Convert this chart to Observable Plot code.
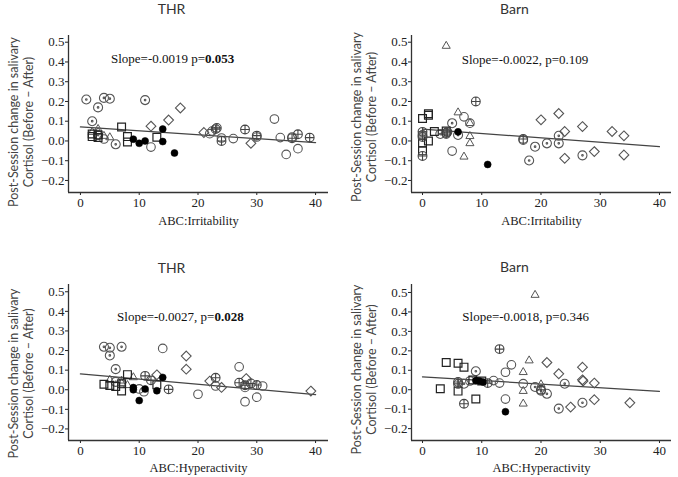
<!DOCTYPE html>
<html>
<head>
<meta charset="utf-8">
<script src="https://cdn.jsdelivr.net/npm/d3@7"></script>
<script src="https://cdn.jsdelivr.net/npm/@observablehq/plot@0.6"></script>
<style>
  html, body { margin: 0; padding: 0; background: #fff; }
  #wrap { position: relative; width: 678px; height: 477px; overflow: hidden; background: #fff; }
  #wrap > div { position: absolute; }
</style>
</head>
<body>
<div id="wrap">
  <div id="tl" style="left:0px;top:0px"></div>
  <div id="tr" style="left:339px;top:0px"></div>
  <div id="bl" style="left:0px;top:237px"></div>
  <div id="br" style="left:339px;top:237px"></div>
</div>
<script>
// ---------- data ----------
// group codes: c = open circle, cd = circle with dot, s = square, t = triangle,
// d = diamond, f = filled circle, cp = circle with plus
const titles = ["THR", "Barn", "THR", "Barn"];
const xLabels = ["ABC:Irritability", "ABC:Irritability", "ABC:Hyperactivity", "ABC:Hyperactivity"];
const yLabel = "Post-Session change in salivary\nCortisol (Before \u2013 After)";
const xTicks = [0, 10, 20, 30, 40];
const yTicks = [-0.2, -0.1, 0.0, 0.1, 0.2, 0.3, 0.4, 0.5];
const fitX = [0, 40];

// THR – Irritability
const thrIrrX = [1, 2, 3, 4, 5, 6, 11, 3,
  4, 12, 22, 22.4, 24, 26, 30, 33, 34, 35, 36, 37,
  2, 2, 3, 3, 7, 8, 8, 13,
  2, 3, 3, 4, 5,
  12, 15, 17, 21, 29,
  9, 10, 11, 14, 14, 16,
  23, 23.2, 24, 28, 30, 36, 37, 39];
const thrIrrY = [0.21, 0.10, 0.17, 0.218, 0.214, -0.017, 0.207, 0.03,
  0.01, -0.031, 0.037, 0.05, 0.015, 0.012, 0.02, 0.111, 0.017, -0.068, 0.02, -0.039,
  0.035, 0.022, 0.03, 0.018, 0.071, 0.022, -0.005, 0.019,
  0.045, 0.06, 0.045, 0.025, 0.018,
  0.075, 0.106, 0.167, 0.043, -0.012,
  0.009, -0.012, 0.0, 0.06, -0.003, -0.061,
  0.06, 0.066, 0.0, 0.058, 0.027, 0.014, 0.034, 0.017];
const thrIrrG = ["cd", "cd", "cd", "cd", "cd", "cd", "cd", "cd",
  "c", "c", "c", "c", "c", "c", "c", "c", "c", "c", "c", "c",
  "s", "s", "s", "s", "s", "s", "s", "s",
  "t", "t", "t", "t", "t",
  "d", "d", "d", "d", "d",
  "f", "f", "f", "f", "f", "f",
  "cp", "cp", "cp", "cp", "cp", "cp", "cp", "cp"];
const thrIrrFit = [0.071, -0.008];

// Barn – Irritability
const barnIrrX = [0, 1, 1, 0, 0, 1, 2, 4,
  0, 0, 0, 0, 4, 9, 17, 4.2,
  3, 5, 6, 18, 19, 21, 23, 23, 27,
  4, 5, 7, 8, 17,
  4, 6, 7, 8, 8, 8,
  6, 11,
  20, 23, 24, 24, 27, 29, 32, 34, 34];
const barnIrrY = [0.114, 0.13, 0.138, -0.01, -0.05, 0.0, 0.048, 0.05,
  0.046, 0.03, 0.02, -0.076, 0.04, 0.2, 0.01, 0.045,
  0.035, 0.09, 0.03, -0.099, -0.029, -0.012, 0.026, -0.012, -0.073,
  0.035, -0.051, 0.122, 0.09, 0.004,
  0.481, 0.144, -0.08, 0.09, 0.024, -0.012,
  0.046, -0.119,
  0.107, 0.139, 0.048, -0.088, 0.073, -0.054, 0.048, 0.026, -0.071];
const barnIrrG = ["s", "s", "s", "s", "s", "s", "s", "s",
  "cp", "cp", "cp", "cp", "cp", "cp", "cp", "cp",
  "cd", "cd", "cd", "cd", "cd", "cd", "cd", "cd", "cd",
  "c", "c", "c", "c", "c",
  "t", "t", "t", "t", "t", "t",
  "f", "f",
  "d", "d", "d", "d", "d", "d", "d", "d", "d"];
const barnIrrFit = [0.06, -0.029];

// THR – Hyperactivity
const thrHypX = [4, 5, 7, 5, 6, 6,
  14, 10, 10.8, 20, 23, 27, 28, 31, 28, 30,
  18, 18, 13, 22, 24, 28.2, 39.2,
  8, 4, 5, 6, 7, 13, 7,
  9, 5, 7, 7, 8,
  14, 13, 10, 9, 9, 11,
  11, 12, 15, 23, 27, 28, 29, 30];
const thrHypY = [0.219, 0.214, 0.219, 0.175, 0.105, 0.04,
  0.211, 0.004, -0.01, -0.023, 0.019, 0.117, 0.012, 0.019, -0.061, -0.038,
  0.172, 0.105, 0.076, 0.044, 0.012, 0.057, -0.007,
  0.077, 0.028, 0.022, 0.017, -0.006, 0.025, 0.03,
  0.063, 0.05, 0.046, 0.034, 0.023,
  0.063, -0.005, -0.055, 0.011, 0.0, 0.004,
  0.071, 0.048, 0.002, 0.061, 0.036, 0.023, 0.032, 0.024];
const thrHypG = ["cd", "cd", "cd", "cd", "cd", "cd",
  "c", "c", "c", "c", "c", "c", "c", "c", "c", "c",
  "d", "d", "d", "d", "d", "d", "d",
  "s", "s", "s", "s", "s", "s", "s",
  "t", "t", "t", "t", "t",
  "f", "f", "f", "f", "f", "f",
  "cp", "cp", "cp", "cp", "cp", "cp", "cp", "cp"];
const thrHypFit = [0.081, -0.025];

// Barn – Hyperactivity
const barnHypX = [19, 18, 17, 17, 17, 20,
  13, 6, 6, 7, 11, 20,
  4, 6, 7, 3, 6, 9, 8.5, 10,
  9, 7, 19, 21, 24, 23, 27, 20,
  15, 14, 17, 14, 12, 13, 8,
  21, 23, 27, 27, 27.1, 29, 25, 29, 35,
  14, 9, 9.6, 10.2];
const barnHypY = [0.487, 0.15, 0.09, -0.007, -0.072, 0.027,
  0.209, 0.04, 0.03, -0.072, 0.034, 0.0,
  0.14, 0.136, 0.116, 0.005, -0.007, -0.048, 0.05, 0.045,
  0.095, 0.031, 0.014, -0.021, 0.031, -0.097, -0.067, -0.005,
  0.128, 0.09, 0.031, -0.048, 0.047, 0.034, 0.045,
  0.14, 0.082, 0.116, 0.051, 0.045, 0.034, -0.089, -0.051, -0.067,
  -0.113, 0.047, 0.045, 0.04];
const barnHypG = ["t", "t", "t", "t", "t", "t",
  "cp", "cp", "cp", "cp", "cp", "cp",
  "s", "s", "s", "s", "s", "s", "s", "s",
  "cd", "cd", "cd", "cd", "cd", "cd", "cd", "cd",
  "c", "c", "c", "c", "c", "c", "c",
  "d", "d", "d", "d", "d", "d", "d", "d", "d",
  "f", "f", "f", "f"];
const barnHypFit = [0.066, -0.008];

// ---------- symbols ----------
const circleDot = {
  draw(ctx, size) {
    const r = Math.sqrt(size / Math.PI);
    ctx.moveTo(r, 0); ctx.arc(0, 0, r, 0, 2 * Math.PI);
    ctx.moveTo(0.8, 0); ctx.arc(0, 0, 0.8, 0, 2 * Math.PI);
  }
};
const circlePlus = {
  draw(ctx, size) {
    const r = Math.sqrt(size / Math.PI);
    ctx.moveTo(r, 0); ctx.arc(0, 0, r, 0, 2 * Math.PI);
    ctx.moveTo(-r, 0); ctx.lineTo(r, 0);
    ctx.moveTo(0, -r); ctx.lineTo(0, r);
  }
};
const groupStyles = [
  {g: "c", symbol: "circle", r: 4.3, fill: "none", stroke: "#555", sw: 1.1},
  {g: "cd", symbol: circleDot, r: 4.5, fill: "none", stroke: "#555", sw: 1.1},
  {g: "d", symbol: "diamond2", r: 4.4, fill: "none", stroke: "#555", sw: 1.1},
  {g: "t", symbol: "triangle", r: 3.0, fill: "none", stroke: "#555", sw: 1.0},
  {g: "s", symbol: "square", r: 4.4, fill: "none", stroke: "#222", sw: 1.2},
  {g: "cp", symbol: circlePlus, r: 4.4, fill: "none", stroke: "#444", sw: 1.1},
  {g: "f", symbol: "circle", r: 3.5, fill: "#000", stroke: "#000", sw: 0.5}
];

const SERIF = "'Liberation Serif', 'Times New Roman', serif";

function panel(el, cfg) {
  const pts = cfg.xs.map((x, i) => ({x, y: cfg.ys[i], g: cfg.gs[i]}));
  const fit = fitX.map((x, i) => ({x, y: cfg.fit[i]}));
  const marks = [
    Plot.ruleX([cfg.xDom[0]], {stroke: "#333", strokeWidth: 1.3}),
    Plot.ruleY([cfg.yDom[0]], {stroke: "#333", strokeWidth: 1.3}),
    Plot.line(fit, {x: "x", y: "y", stroke: "#444", strokeWidth: 1.3})
  ];
  for (const st of groupStyles) {
    marks.push(Plot.dot(pts.filter(d => d.g === st.g), {
      x: "x", y: "y", symbol: st.symbol, r: st.r,
      fill: st.fill, stroke: st.stroke, strokeWidth: st.sw
    }));
  }
  if (cfg.slopeBold) {
    marks.push(Plot.text([cfg.slopeA], {x: () => cfg.sx, y: () => cfg.sy, text: d => d,
      textAnchor: "end", fontFamily: "Liberation Serif", fontSize: 13, fill: "#111"}));
    marks.push(Plot.text([cfg.slopeBold], {x: () => cfg.sx, y: () => cfg.sy, text: d => d,
      textAnchor: "start", fontFamily: "Liberation Serif", fontSize: 13, fontWeight: "bold", fill: "#111"}));
  } else {
    marks.push(Plot.text([cfg.slopeA], {x: () => cfg.sx, y: () => cfg.sy, text: d => d,
      textAnchor: "middle", fontFamily: "Liberation Serif", fontSize: 13, fill: "#111"}));
  }
  marks.push(Plot.text([cfg.title], {frameAnchor: "top", text: d => d, dx: cfg.tdx, dy: cfg.tdy,
    fontFamily: "Lato", fontSize: 14, fill: "#333", lineAnchor: "middle", textAnchor: "middle"}));
  marks.push(Plot.text([cfg.xlabel], {frameAnchor: "bottom", text: d => d, dy: cfg.xldy,
    fontFamily: "Liberation Serif", fontSize: 12.5, fill: "#222", lineAnchor: "middle", textAnchor: "middle"}));
  marks.push(Plot.text([yLabel], {frameAnchor: "left", text: d => d, rotate: -90,
    dx: -47.5, dy: cfg.yldy, lineHeight: 1.2, textAnchor: "middle",
    fontFamily: "Lato", fontSize: 12.5, fill: "#444", lineAnchor: "middle"}));

  const svg = Plot.plot({
    width: cfg.width, height: cfg.height,
    marginLeft: cfg.mL, marginRight: cfg.mR, marginTop: cfg.mT, marginBottom: cfg.mB,
    style: "background: #fff; font-size: 13px; color: #222; overflow: visible;",
    x: {domain: cfg.xDom, ticks: xTicks, tickSize: 3, tickPadding: 2, tickFormat: d3.format("d"), label: null},
    y: {domain: cfg.yDom, ticks: yTicks, tickSize: 3, tickPadding: 1, tickFormat: d3.format(".1f"), label: null},
    marks
  });
  // axis tick labels in a serif face (like the reference)
  svg.querySelectorAll("text").forEach(t => {
    const a = t.parentNode && t.parentNode.closest ? t.parentNode.closest("[font-family]") : null;
    const f = a ? a.getAttribute("font-family") : "";
    if (!/Lato|Liberation/.test(f || "")) {
      t.style.fontFamily = SERIF;
      t.style.fontSize = "13px";
    }
  });
  document.getElementById(el).appendChild(svg);
}

panel("tl", {xs: thrIrrX, ys: thrIrrY, gs: thrIrrG, fit: thrIrrFit, title: titles[0], xlabel: xLabels[0],
  slopeA: "Slope=-0.0019 p=", slopeBold: "0.053", sx: 21.2, sy: 0.418,
  width: 339, height: 237, mL: 68, mR: 11, mT: 35, mB: 45,
  xDom: [-2.03, 42.2], yDom: [-0.261, 0.534], tdx: -27, tdy: -26, xldy: 28, yldy: 8});
panel("tr", {xs: barnIrrX, ys: barnIrrY, gs: barnIrrG, fit: barnIrrFit, title: titles[1], xlabel: xLabels[1],
  slopeA: "Slope=-0.0022, p=0.109", slopeBold: null, sx: 17.3, sy: 0.41,
  width: 339, height: 237, mL: 72, mR: 7, mT: 35, mB: 45,
  xDom: [-1.86, 42.03], yDom: [-0.261, 0.534], tdx: -27, tdy: -26, xldy: 28, yldy: 3});
panel("bl", {xs: thrHypX, ys: thrHypY, gs: thrHypG, fit: thrHypFit, title: titles[2], xlabel: xLabels[2],
  slopeA: "Slope=-0.0027, p=", slopeBold: "0.028", sx: 22.8, sy: 0.374,
  width: 339, height: 240, mL: 68, mR: 11, mT: 47, mB: 37,
  xDom: [-2.03, 42.2], yDom: [-0.259, 0.537], tdx: -27, tdy: -15.5, xldy: 27, yldy: 11});
panel("br", {xs: barnHypX, ys: barnHypY, gs: barnHypG, fit: barnHypFit, title: titles[3], xlabel: xLabels[3],
  slopeA: "Slope=-0.0018, p=0.346", slopeBold: null, sx: 17.4, sy: 0.377,
  width: 339, height: 240, mL: 72, mR: 7, mT: 47, mB: 37,
  xDom: [-1.86, 42.03], yDom: [-0.261, 0.541], tdx: -27, tdy: -16.5, xldy: 27, yldy: 7});
</script>
</body>
</html>
